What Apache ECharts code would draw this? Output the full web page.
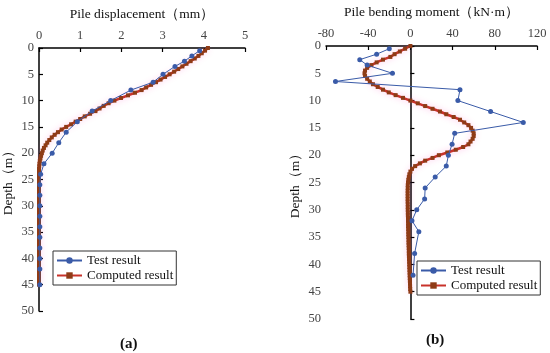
<!DOCTYPE html>
<html>
<head>
<meta charset="utf-8">
<script src="https://cdn.jsdelivr.net/npm/echarts@6/dist/echarts.min.js"></script>
<style>html,body{margin:0;padding:0;background:#fff}#c{width:550px;height:353px}</style>
</head>
<body>
<div id="c"></div>
<script>
// ---- data ----
var dispTicks = [0, 1, 2, 3, 4, 5];
var momentTicks = [-80, -40, 0, 40, 80, 120];
var depthTicks = [0, 5, 10, 15, 20, 25, 30, 35, 40, 45, 50];

var testDepthA = [0.5, 1.5, 2.5, 3.5, 5, 6.5, 8, 10, 12, 14, 16, 18, 20, 22, 24, 26, 28, 30, 32, 34, 36, 38, 40, 42, 45];
var testDisp   = [3.90, 3.71, 3.53, 3.30, 3.01, 2.77, 2.23, 1.74, 1.29, 0.93, 0.66, 0.48, 0.32, 0.12, 0.04, 0.02, 0.02, 0.02, 0.02, 0.02, 0.02, 0.02, 0.02, 0.02, 0.02];

var testDepthB = [0.5, 1.5, 2.5, 3.5, 5, 6.5, 8, 10, 12, 14, 16, 18, 20, 22, 24, 26, 28, 30, 32, 34, 38, 42];
var testMoment = [-20, -32, -48, -41, -17, -71, 47, 45, 76, 107, 42, 39.5, 36, 34, 23.5, 14, 13.5, 6, 1.5, 8, 4, 2.5];

var compDepth = [0, 0.5, 1, 1.5, 2, 2.5, 3, 3.5, 4, 4.5, 5, 5.5, 6, 6.5, 7, 7.5, 8, 8.5, 9, 9.5,
  10, 10.5, 11, 11.5, 12, 12.5, 13, 13.5, 14, 14.5, 15, 15.5, 16, 16.5, 17, 17.5, 18, 18.5, 19, 19.5,
  20, 20.5, 21, 21.5, 22, 22.5, 23, 23.5, 24, 24.5, 25, 25.5, 26, 26.5, 27, 27.5, 28, 28.5, 29, 29.5,
  30, 30.5, 31, 31.5, 32, 32.5, 33, 33.5, 34, 34.5, 35, 35.5, 36, 36.5, 37, 37.5, 38, 38.5, 39, 39.5,
  40, 40.5, 41, 41.5, 42, 42.5, 43, 43.5, 44, 44.5, 45];
var compDisp = [4.10, 4.03, 3.95, 3.87, 3.78, 3.68, 3.58, 3.48, 3.38, 3.28, 3.17, 3.06, 2.95, 2.84, 2.72, 2.60, 2.49, 2.33, 2.16, 1.99,
  1.83, 1.69, 1.57, 1.47, 1.37, 1.24, 1.11, 1.00, 0.89, 0.78, 0.66, 0.55, 0.46, 0.38, 0.31, 0.25, 0.20, 0.16, 0.12, 0.09,
  0.07, 0.05, 0.035, 0.02, 0.01, 0.005, 0, 0, 0, 0, 0, 0, 0, 0, 0, 0, 0, 0, 0, 0,
  0, 0, 0, 0, 0, 0, 0, 0, 0, 0, 0, 0, 0, 0, 0, 0, 0, 0, 0, 0,
  0, 0, 0, 0, 0, 0, 0, 0, 0, 0, 0];
var compMoment = [0, -5, -10, -15, -19, -26, -32, -37, -41, -43, -43.5, -43, -41, -38.5, -35.5, -31, -26, -20.5, -14, -7,
  0, 7, 14, 21, 28, 34, 41, 47, 51, 55, 57.5, 59, 60, 60, 59, 57, 55, 50, 43, 35,
  27, 21, 14, 9, 4.5, 1.5, 0, -1, -1.5, -2, -2.3, -2.5, -2.5, -2.6, -2.6, -2.6, -2.6, -2.6, -2.5, -2.5,
  -2.5, -2.4, -2.4, -2.3, -2.3, -2.2, -2.2, -2.1, -2.0, -2.0, -1.9, -1.8, -1.8, -1.7, -1.6, -1.5, -1.5, -1.4, -1.3, -1.2,
  -1.1, -1.0, -0.9, -0.8, -0.7, -0.6, -0.5, -0.4, -0.3, -0.2, 0];

function pairs(xs, ys) { return xs.map(function (x, i) { return [x, ys[i]]; }); }

var FONT = "'Times New Roman','Liberation Serif',serif";
var BLUE = '#3A5BA8', RED = '#C8322A', BROWN = '#8E3B16';

function xAx(idx, ticks, name) {
  return {
    gridIndex: idx, type: 'value', position: 'top',
    min: ticks[0], max: ticks[ticks.length - 1], interval: ticks[1] - ticks[0],
    name: name, nameLocation: 'middle', nameGap: 27,
    nameTextStyle: { fontFamily: FONT, fontSize: 13.5, color: '#111' },
    axisLine: { onZero: false, lineStyle: { color: '#000', width: 1.5 } },
    axisTick: { inside: true, length: 4, lineStyle: { color: '#000', width: 1.2 } },
    axisLabel: { fontFamily: FONT, fontSize: 12.5, color: '#444', margin: 6 },
    splitLine: { show: false }
  };
}
function yAx(idx, onZero) {
  return {
    gridIndex: idx, type: 'value', inverse: true,
    min: depthTicks[0], max: depthTicks[depthTicks.length - 1], interval: depthTicks[1] - depthTicks[0],
    name: 'Depth（m）', nameLocation: 'middle', nameGap: 24,
    nameTextStyle: { fontFamily: FONT, fontSize: 13.5, color: '#111' },
    axisLine: { onZero: onZero, lineStyle: { color: '#000', width: 1.5 } },
    axisTick: { inside: true, length: 4, lineStyle: { color: '#000', width: 1.2 } },
    axisLabel: { fontFamily: FONT, fontSize: 12.5, color: '#444', margin: 5 },
    splitLine: { show: false }
  };
}
function testSeries(xi, data) {
  return {
    name: 'Test result', type: 'line', xAxisIndex: xi, yAxisIndex: xi, data: data,
    symbol: 'circle', symbolSize: 5, showSymbol: true,
    lineStyle: { color: BLUE, width: 1 }, itemStyle: { color: BLUE }, z: 3, animation: false
  };
}
function compSeries(xi, data) {
  return {
    name: 'Computed result', type: 'line', xAxisIndex: xi, yAxisIndex: xi, data: data,
    symbol: 'rect', symbolSize: 4, showSymbol: true,
    lineStyle: { color: RED, width: 2.5, shadowColor: 'rgba(255,60,180,0.35)', shadowBlur: 6 },
    itemStyle: { color: BROWN }, z: 2, animation: false
  };
}
function legend(left, top) {
  return {
    left: left, top: top, orient: 'vertical', itemGap: 2, itemWidth: 25, itemHeight: 8,
    padding: [3, 3, 3, 3], borderColor: '#333', borderWidth: 1, backgroundColor: '#fff',
    textStyle: { fontFamily: FONT, fontSize: 13, color: '#111' },
    data: ['Test result', 'Computed result']
  };
}

var chart = echarts.init(document.getElementById('c'), null, { renderer: 'canvas' });
chart.setOption({
  animation: false,
  backgroundColor: '#fff',
  grid: [
    { left: 35, top: 48, width: 210, height: 263 },
    { left: 326, top: 38, width: 211, height: 281 }
  ],
  xAxis: [xAx(0, dispTicks, 'Pile displacement（mm）'), xAx(1, momentTicks, 'Pile bending moment（kN·m）')],
  yAxis: [yAx(0, false), yAx(1, true)],
  legend: [legend(53, 251), legend(417, 261)],
  title: [
    { text: '{p|(}{b|a}{p|)}', left: 115, top: 332, textStyle: { rich: { p: { fontFamily: FONT, fontSize: 15, color: '#111' }, b: { fontFamily: FONT, fontSize: 15, fontWeight: 'bold', color: '#111' } } } },
    { text: '{p|(}{b|b}{p|)}', left: 421, top: 328, textStyle: { rich: { p: { fontFamily: FONT, fontSize: 15, color: '#111' }, b: { fontFamily: FONT, fontSize: 15, fontWeight: 'bold', color: '#111' } } } }
  ],
  series: [
    compSeries(0, pairs(compDisp, compDepth)),
    testSeries(0, pairs(testDisp, testDepthA)),
    compSeries(1, pairs(compMoment, compDepth)),
    testSeries(1, pairs(testMoment, testDepthB))
  ]
});
</script>
</body>
</html>
